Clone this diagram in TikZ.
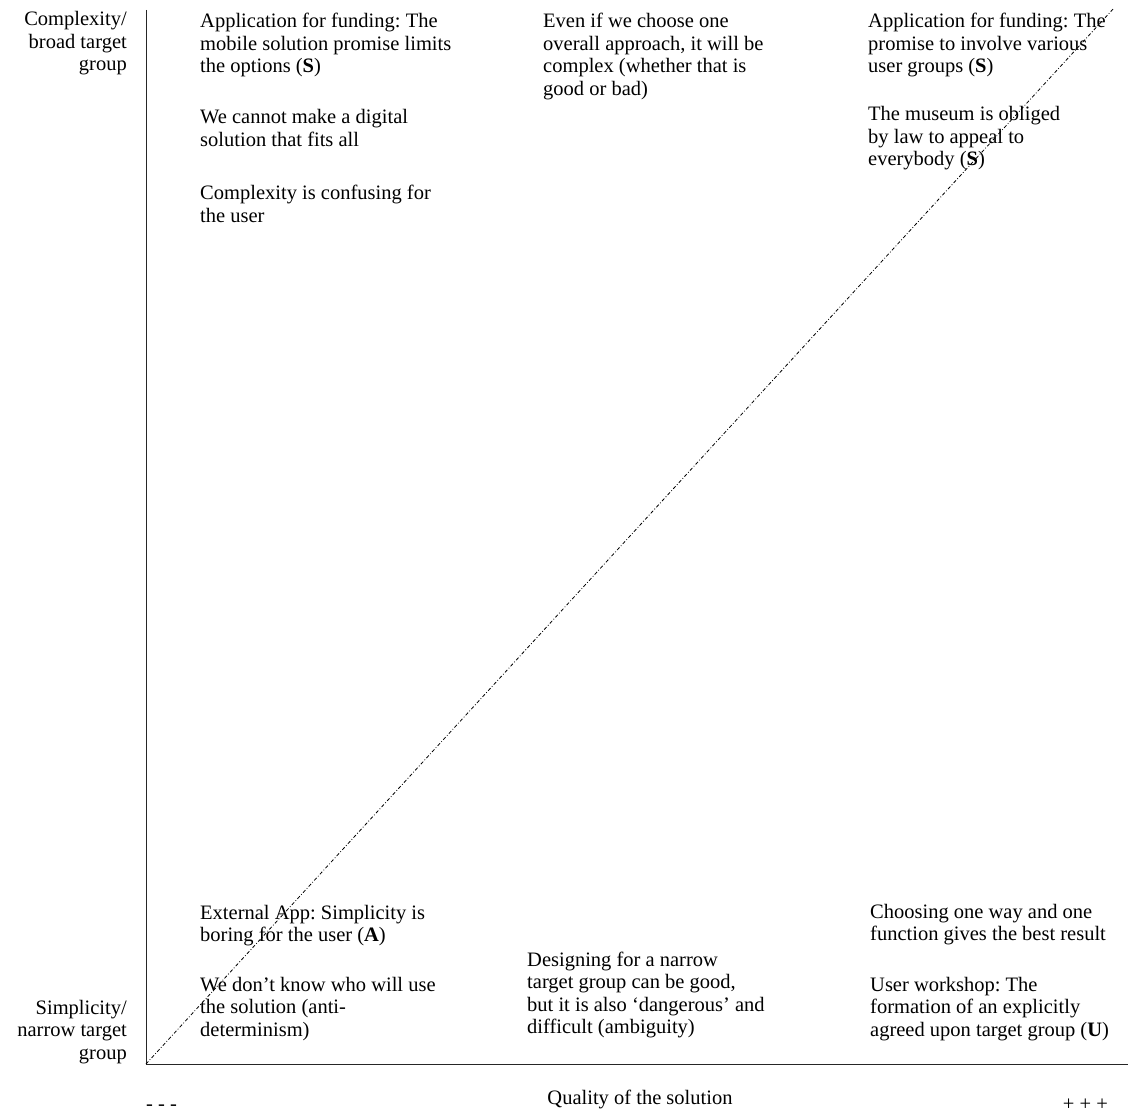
\documentclass[tikz,border=0pt]{standalone}
\usepackage{fontspec}
\setmainfont{Liberation Serif}
\frenchspacing
\begin{document}
\begin{tikzpicture}[x=1pt,y=-1pt,
  txt/.style={anchor=base west,align=left,inner sep=0pt,font=\fontsize{20.5}{22.5}\selectfont\frenchspacing},
  ylab/.style={anchor=base east,align=right,inner sep=0pt,font=\fontsize{20.5}{22.5}\selectfont},
  axis/.style={line width=0.9pt,black!85},
  diag/.style={line width=0.8pt,dash pattern=on 3.5pt off 2pt on 0.8pt off 2pt}]
\useasboundingbox (0,0) rectangle (1129,1115);
\coordinate (O) at (146,1064);
\coordinate (Ytop) at (146,10);
\coordinate (Xend) at (1128,1064);
\coordinate (Dend) at (1114,8);
\draw[axis] (Ytop) -- (O) -- (Xend);
\draw[diag] (O) -- (Dend);
% axis labels (anchor = baseline of last line)
\node[ylab] (yt) at (127,71) {Complexity/\\broad target\\group};
\node[ylab] (yb) at (127,1059) {Simplicity/\\narrow target\\group};
\node[txt,anchor=base] (xl) at (640,1104) {Quality of the solution};
\node[txt] (minus) at (146,1110) {- - -};
\node[txt,anchor=base east] (plus) at (1108,1110) {+ + +};
% top left
\node[txt] (tl1) at (200,73) {Application for funding: The\\mobile solution promise limits\\the options (\textbf{S})};
\node[txt] (tl2) at (200,146.5) {We cannot make a digital\\solution that fits all};
\node[txt] (tl3) at (200,222.5) {Complexity is confusing for\\the user};
% top middle
\node[txt] (tm) at (543,95.5) {Even if we choose one\\overall approach, it will be\\complex (whether that is\\good or bad)};
% top right
\node[txt] (tr1) at (868,73) {Application for funding: The\\promise to involve various\\user groups (\textbf{S})};
\node[txt] (tr2) at (868,166) {The museum is obliged\\by law to appeal to\\everybody (\textbf{S})};
% bottom left
\node[txt] (bl1) at (200,941.5) {External App: Simplicity is\\boring for the user (\textbf{A})};
\node[txt] (bl2) at (200,1036) {We don’t know who will use\\the solution (anti-\\determinism)};
% bottom middle
\node[txt] (bm) at (527,1033.5) {Designing for a narrow\\target group can be good,\\but it is also ‘dangerous’ and\\difficult (ambiguity)};
% bottom right
\node[txt] (br1) at (870,940.5) {Choosing one way and one\\function gives the best result};
\node[txt] (br2) at (870,1036) {User workshop: The\\formation of an explicitly\\agreed upon target group (\textbf{U})};
\end{tikzpicture}
\end{document}
